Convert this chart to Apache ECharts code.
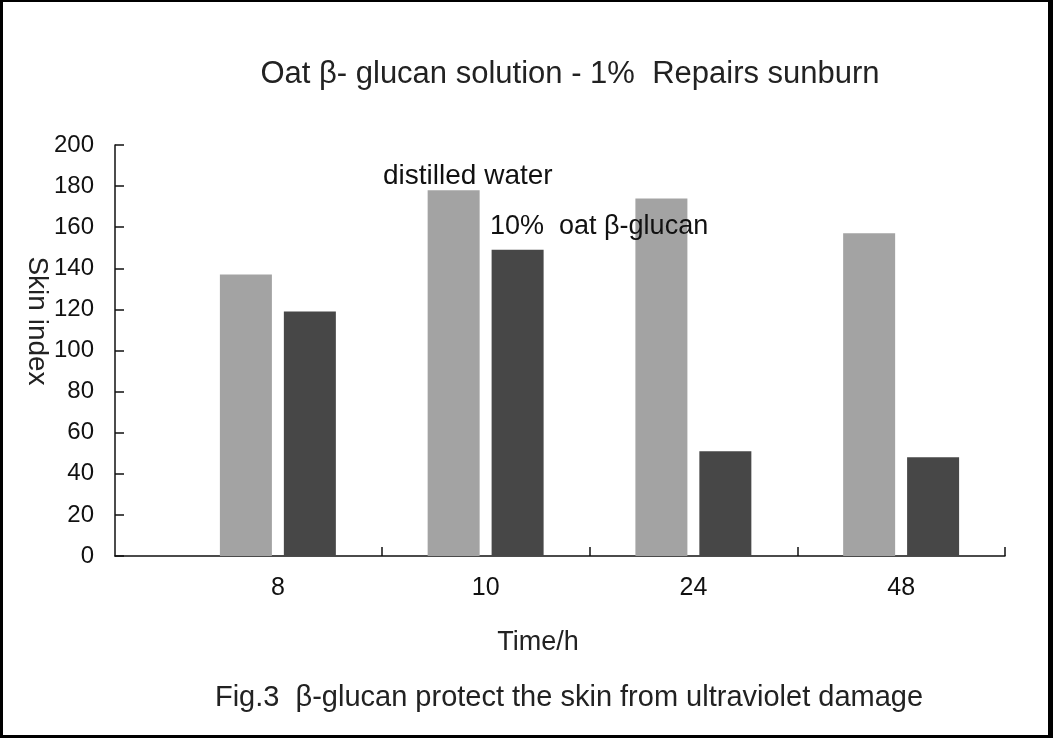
<!DOCTYPE html>
<html>
<head>
<meta charset="utf-8">
<script src="https://cdn.jsdelivr.net/npm/echarts@6/dist/echarts.min.js"></script>
<style>
html,body{margin:0;padding:0;background:#fff;}
#chart{width:1053px;height:738px;position:absolute;left:0;top:0;}
#frame{position:absolute;left:0;top:0;width:1053px;height:738px;box-sizing:border-box;border-style:solid;border-color:#000;border-width:2px 5px 3px 3px;pointer-events:none;}
</style>
</head>
<body>
<div id="chart"></div>
<div id="frame"></div>
<script>
const categories = ['8', '10', '24', '48'];
const distilledWater = [137, 178, 174, 157];
const oatGlucan = [119, 149, 51, 48];
const yTicks = [0, 20, 40, 60, 80, 100, 120, 140, 160, 180, 200];

const FONT = 'Liberation Sans, Arial, sans-serif';
const chart = echarts.init(document.getElementById('chart'), null, {renderer: 'canvas'});

const centers = categories.map((c, i) => i + 0.5);
const bounds = categories.map((c, i) => i + 1);

const option = {
  backgroundColor: '#ffffff',
  animation: false,
  grid: {left: 115, right: 48, top: 145, bottom: 182},
  title: [
    {text: 'Oat β- glucan solution - 1%  Repairs sunburn', left: 565, top: 54, textAlign: 'center',
     textStyle: {fontFamily: FONT, fontSize: 31, fontWeight: 'normal', color: '#222'}},
    {text: 'Time/h', left: 533, top: 624, textAlign: 'center',
     textStyle: {fontFamily: FONT, fontSize: 27, fontWeight: 'normal', color: '#222'}},
    {text: 'Fig.3  β-glucan protect the skin from ultraviolet damage', left: 564, top: 678, textAlign: 'center',
     textStyle: {fontFamily: FONT, fontSize: 29, fontWeight: 'normal', color: '#222'}},
    {text: 'distilled water', left: 378, top: 157,
     textStyle: {fontFamily: FONT, fontSize: 28, fontWeight: 'normal', color: '#111'}},
    {text: '10%  oat β-glucan', left: 485, top: 208,
     textStyle: {fontFamily: FONT, fontSize: 27, fontWeight: 'normal', color: '#111'}}
  ],
  graphic: [
    {type: 'text', x: 37, y: 321, rotation: -Math.PI / 2,
     style: {text: 'Skin index', font: '28px ' + FONT, fill: '#222', align: 'center', verticalAlign: 'middle'}}
  ],
  xAxis: {
    type: 'value',
    min: -0.284,
    max: categories.length,
    splitLine: {show: false},
    axisLine: {show: true, lineStyle: {color: '#111', width: 1.5}},
    axisTick: {show: true, inside: true, length: 9, customValues: bounds, lineStyle: {color: '#111', width: 1.5}},
    axisLabel: {
      customValues: centers,
      margin: 20,
      fontFamily: FONT, fontSize: 25, color: '#111',
      formatter: v => categories[Math.floor(v)]
    }
  },
  yAxis: {
    type: 'value',
    min: 0, max: 200, interval: 20,
    splitLine: {show: false},
    axisLine: {show: true, onZero: false, lineStyle: {color: '#111', width: 1.5}},
    axisTick: {show: true, inside: true, length: 9, lineStyle: {color: '#111', width: 1.5}},
    axisLabel: {
      margin: 21, fontFamily: FONT, fontSize: 24, color: '#111',
      customValues: yTicks
    }
  },
  series: [
    {
      name: 'distilled water', type: 'bar',
      data: distilledWater.map((v, i) => [centers[i], v]),
      barWidth: 52, barGap: '23%',
      itemStyle: {color: '#a3a3a3'}
    },
    {
      name: '10% oat β-glucan', type: 'bar',
      data: oatGlucan.map((v, i) => [centers[i], v]),
      barWidth: 52, barGap: '23%',
      itemStyle: {color: '#474747'}
    }
  ]
};
chart.setOption(option);
</script>
</body>
</html>
